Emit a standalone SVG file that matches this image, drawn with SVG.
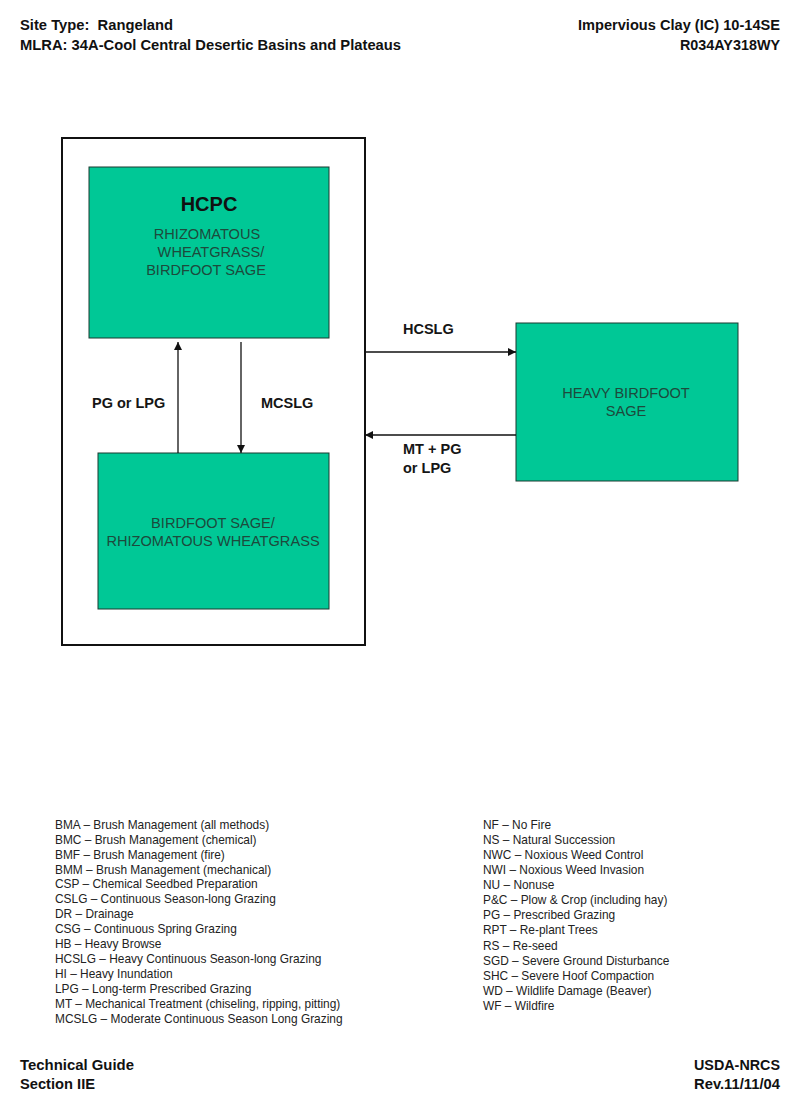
<svg xmlns="http://www.w3.org/2000/svg" width="800" height="1108" viewBox="0 0 800 1108">
<defs>
<marker id="ah" viewBox="0 0 10 10" refX="10" refY="5" markerWidth="8" markerHeight="8" markerUnits="userSpaceOnUse" orient="auto">
<path d="M0,0 L10,5 L0,10 Z" fill="#111"/>
</marker>
<style>
.hdr{font-family:"Liberation Sans Narrow","Liberation Sans",Arial,sans-serif;font-weight:bold;font-size:14.5px;fill:#111}
.state{fill:#00c896;stroke:#1b3a30;stroke-width:1}
.st{font-family:"Liberation Sans",Arial,sans-serif;font-size:14.6px;fill:#1d4a3c;text-anchor:middle}
.lbl{font-family:"Liberation Sans",Arial,sans-serif;font-weight:bold;font-size:14.5px;fill:#151515}
.leg{font-family:"Liberation Sans",Arial,sans-serif;font-size:11.9px;fill:#222}
.conn{stroke:#111;stroke-width:1.3;fill:none;marker-end:url(#ah)}
</style>
</defs>
<rect width="800" height="1108" fill="#fff"/>

<g id="header">
<text class="hdr" x="20" y="30" textLength="153" lengthAdjust="spacingAndGlyphs">Site Type:&#160; Rangeland</text>
<text class="hdr" x="20" y="50" textLength="381" lengthAdjust="spacingAndGlyphs">MLRA: 34A-Cool Central Desertic Basins and Plateaus</text>
<text class="hdr" x="780" y="30" text-anchor="end" textLength="202" lengthAdjust="spacingAndGlyphs">Impervious Clay (IC) 10-14SE</text>
<text class="hdr" x="780" y="50" text-anchor="end" textLength="100" lengthAdjust="spacingAndGlyphs">R034AY318WY</text>
</g>

<g id="reference-community-box">
<rect x="62" y="138" width="303" height="507" fill="none" stroke="#111" stroke-width="2"/>
</g>

<g id="hcpc">
<rect class="state" x="89" y="167" width="240" height="171"/>
<text x="209" y="211" text-anchor="middle" font-family="'Liberation Sans',Arial,sans-serif" font-weight="bold" font-size="20" fill="#111">HCPC</text>
<text class="st" x="207" y="239">RHIZOMATOUS</text>
<text class="st" x="211" y="257">WHEATGRASS/</text>
<text class="st" x="206" y="275">BIRDFOOT SAGE</text>
</g>

<g id="birdfoot-rhizomatous">
<rect class="state" x="98" y="453" width="231" height="156"/>
<text class="st" x="213" y="528">BIRDFOOT SAGE/</text>
<text class="st" x="213" y="546">RHIZOMATOUS WHEATGRASS</text>
</g>

<g id="heavy-birdfoot">
<rect class="state" x="516" y="323" width="222" height="158"/>
<text class="st" x="626" y="398">HEAVY BIRDFOOT</text>
<text class="st" x="626" y="416">SAGE</text>
</g>

<g id="connectors">
<line class="conn" x1="178" y1="453" x2="178" y2="342"/>
<line class="conn" x1="241" y1="342" x2="241" y2="453"/>
<line class="conn" x1="365" y1="352" x2="516" y2="352"/>
<line class="conn" x1="516" y1="435" x2="365" y2="435"/>
<text class="lbl" x="92" y="408">PG or LPG</text>
<text class="lbl" x="261" y="408">MCSLG</text>
<text class="lbl" x="403" y="334">HCSLG</text>
<text class="lbl" x="403" y="454">MT + PG</text>
<text class="lbl" x="403" y="473">or LPG</text>
</g>

<g id="legend-left" class="leg">
<text x="55" y="829">BMA – Brush Management (all methods)</text>
<text x="55" y="844">BMC – Brush Management (chemical)</text>
<text x="55" y="859">BMF – Brush Management (fire)</text>
<text x="55" y="874">BMM – Brush Management (mechanical)</text>
<text x="55" y="888">CSP – Chemical Seedbed Preparation</text>
<text x="55" y="903">CSLG – Continuous Season-long Grazing</text>
<text x="55" y="918">DR – Drainage</text>
<text x="55" y="933">CSG – Continuous Spring Grazing</text>
<text x="55" y="948">HB – Heavy Browse</text>
<text x="55" y="963">HCSLG – Heavy Continuous Season-long Grazing</text>
<text x="55" y="978">HI – Heavy Inundation</text>
<text x="55" y="993">LPG – Long-term Prescribed Grazing</text>
<text x="55" y="1008">MT – Mechanical Treatment (chiseling, ripping, pitting)</text>
<text x="55" y="1023">MCSLG – Moderate Continuous Season Long Grazing</text>
</g>

<g id="legend-right" class="leg">
<text x="483" y="829">NF – No Fire</text>
<text x="483" y="844">NS – Natural Succession</text>
<text x="483" y="859">NWC – Noxious Weed Control</text>
<text x="483" y="874">NWI – Noxious Weed Invasion</text>
<text x="483" y="889">NU – Nonuse</text>
<text x="483" y="904">P&amp;C – Plow &amp; Crop (including hay)</text>
<text x="483" y="919">PG – Prescribed Grazing</text>
<text x="483" y="934">RPT – Re-plant Trees</text>
<text x="483" y="950">RS – Re-seed</text>
<text x="483" y="965">SGD – Severe Ground Disturbance</text>
<text x="483" y="980">SHC – Severe Hoof Compaction</text>
<text x="483" y="995">WD – Wildlife Damage (Beaver)</text>
<text x="483" y="1010">WF – Wildfire</text>
</g>

<g id="footer">
<text class="hdr" x="20" y="1070" textLength="114" lengthAdjust="spacingAndGlyphs">Technical Guide</text>
<text class="hdr" x="20" y="1089" textLength="75" lengthAdjust="spacingAndGlyphs">Section IIE</text>
<text class="hdr" x="780" y="1070" text-anchor="end" textLength="86" lengthAdjust="spacingAndGlyphs">USDA-NRCS</text>
<text class="hdr" x="780" y="1089" text-anchor="end" textLength="86" lengthAdjust="spacingAndGlyphs">Rev.11/11/04</text>
</g>
</svg>
